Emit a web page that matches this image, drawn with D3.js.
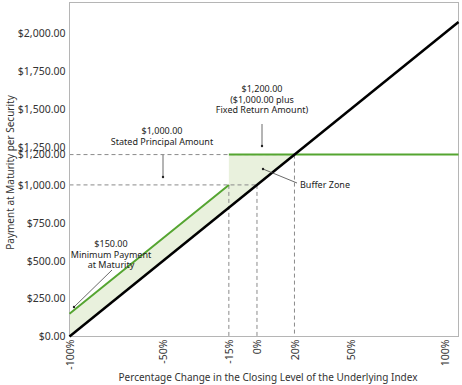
<!DOCTYPE html>
<html>
<head>
<meta charset="utf-8">
<title>Payment at Maturity</title>
<style>
body { margin: 0; background: #fff; }
text { font-family: "Noto Sans", "DejaVu Sans", sans-serif; fill: #333; }
</style>
<script src="https://cdn.jsdelivr.net/npm/d3@7"></script>
</head>
<body>
<div id="chart"></div>
<script>
// chart values
var xTicks = [-100, -50, -15, 0, 20, 50, 100];
var yTicks = [0, 250, 500, 750, 1000, 1200, 1250, 1500, 1750, 2000];

// underlying index (black line)
var indexPct = [-100, 107.5];
var indexPay = [0, 2075];

// securities payment (green line), two pieces
var secPctA = [-100, -15];
var secPayA = [150, 1000];
var secPctB = [-15, 107.5];
var secPayB = [1200, 1200];

// buffer zone outline
var zonePct = [-100, -100, -15, -15, 20];
var zonePay = [0, 150, 1000, 1200, 1200];

var width = 462, height = 385;
var plotL = 69.5, plotR = 458.5, plotT = 2.5, plotB = 336.5;

var svg = d3.select("#chart").append("svg")
    .attr("width", width)
    .attr("height", height);

var x = d3.scaleLinear().domain([-100, 107.5]).range([plotL, plotR]);
var y = d3.scaleLinear().domain([0, 2200]).range([plotB, plotT + 0.5]);

function pts(xs, ys) {
    return xs.map(function(d, i) { return [x(d), y(ys[i])]; });
}
var line = d3.line();

// shaded buffer zone
svg.append("path")
    .attr("d", line(pts(zonePct, zonePay)) + "Z")
    .style("fill", "#e9f1dd")
    .style("stroke", "none");

// dashed guide lines
var guides = [
    [[-100, 1200], [20, 1200]],
    [[-100, 1000], [0, 1000]],
    [[-15, 1000], [-15, 0]],
    [[0, 1000], [0, 0]],
    [[20, 1200], [20, 0]]
];
svg.selectAll("line.guide")
    .data(guides)
    .enter()
    .append("line")
        .attr("class", "guide")
        .attr("x1", function(d) { return x(d[0][0]); })
        .attr("y1", function(d) { return y(d[0][1]); })
        .attr("x2", function(d) { return x(d[1][0]); })
        .attr("y2", function(d) { return y(d[1][1]); })
        .style("stroke", "#8a8a8a")
        .style("stroke-width", "1px")
        .style("stroke-dasharray", "4,3");

// frame
svg.append("rect")
    .attr("x", plotL).attr("y", plotT)
    .attr("width", plotR - plotL).attr("height", plotB - plotT)
    .style("fill", "none")
    .style("stroke", "#b5b5b5")
    .style("stroke-width", "1px");

// green payment line
svg.append("path")
    .attr("d", line(pts(secPctA, secPayA)) + line(pts(secPctB, secPayB)))
    .style("fill", "none")
    .style("stroke", "#55a531")
    .style("stroke-width", "2px");

// black index line
svg.append("path")
    .attr("d", line(pts(indexPct, indexPay)))
    .style("fill", "none")
    .style("stroke", "#000")
    .style("stroke-width", "2.5px");

// y axis labels
var yAxis = d3.axisLeft(y)
    .tickValues(yTicks)
    .tickSize(0)
    .tickPadding(4)
    .tickFormat(function(d) { return "$" + d3.format(",.2f")(d); });
var gy = svg.append("g")
    .attr("transform", "translate(" + plotL + ",0)")
    .call(yAxis);
gy.select(".domain").remove();
gy.selectAll("text").style("font-size", "10.5px").style("fill", "#333").style("font-family", null);

// x axis labels
var xAxis = d3.axisBottom(x)
    .tickValues(xTicks)
    .tickSize(0)
    .tickFormat(function(d) { return d + "%"; });
var gx = svg.append("g")
    .attr("transform", "translate(0," + plotB + ")")
    .call(xAxis);
gx.select(".domain").remove();
gx.selectAll("text")
    .attr("transform", "rotate(-90)")
    .attr("x", -3)
    .attr("y", 0)
    .attr("dy", "0.35em")
    .attr("text-anchor", "end")
    .style("font-size", "10.5px")
    .style("fill", "#333")
    .style("font-family", null);

// axis titles
svg.append("text")
    .attr("x", (plotL + plotR) / 2 + 4)
    .attr("y", 381)
    .attr("text-anchor", "middle")
    .style("font-size", "10px")
    .text("Percentage Change in the Closing Level of the Underlying Index");

svg.append("text")
    .attr("transform", "translate(14," + ((plotT + plotB) / 2 + 3) + ") rotate(-90)")
    .attr("text-anchor", "middle")
    .style("font-size", "10px")
    .text("Payment at Maturity per Security");

// annotations
var notes = [
    { lines: ["$1,000.00", "Stated Principal Amount"], tx: 162, ty: 134, from: [163, 155], to: [163, 177] },
    { lines: ["$1,200.00", "($1,000.00 plus", "Fixed Return Amount)"], tx: 262, ty: 92, from: [262, 124], to: [262, 146] },
    { lines: ["$150.00", "Minimum Payment", "at Maturity"], tx: 111, ty: 247, from: [112, 270], to: [74, 307] }
];
notes.forEach(function(n) {
    var t = svg.append("text")
        .attr("text-anchor", "middle")
        .style("font-size", "9px")
        .style("fill", "#222");
    n.lines.forEach(function(s, i) {
        t.append("tspan").attr("x", n.tx).attr("y", n.ty + i * 10.5).text(s);
    });
    svg.append("line")
        .attr("x1", n.from[0]).attr("y1", n.from[1])
        .attr("x2", n.to[0]).attr("y2", n.to[1])
        .style("stroke", "#444").style("stroke-width", "0.8px");
    svg.append("circle")
        .attr("cx", n.to[0]).attr("cy", n.to[1]).attr("r", 1.2)
        .style("fill", "#222");
});

// buffer zone label
svg.append("line")
    .attr("x1", 297).attr("y1", 183)
    .attr("x2", 263).attr("y2", 169)
    .style("stroke", "#444").style("stroke-width", "0.8px");
svg.append("circle").attr("cx", 263).attr("cy", 169).attr("r", 1.2).style("fill", "#222");
svg.append("text")
    .attr("x", 300).attr("y", 188)
    .style("font-size", "9px")
    .style("fill", "#222")
    .text("Buffer Zone");
</script>
</body>
</html>
